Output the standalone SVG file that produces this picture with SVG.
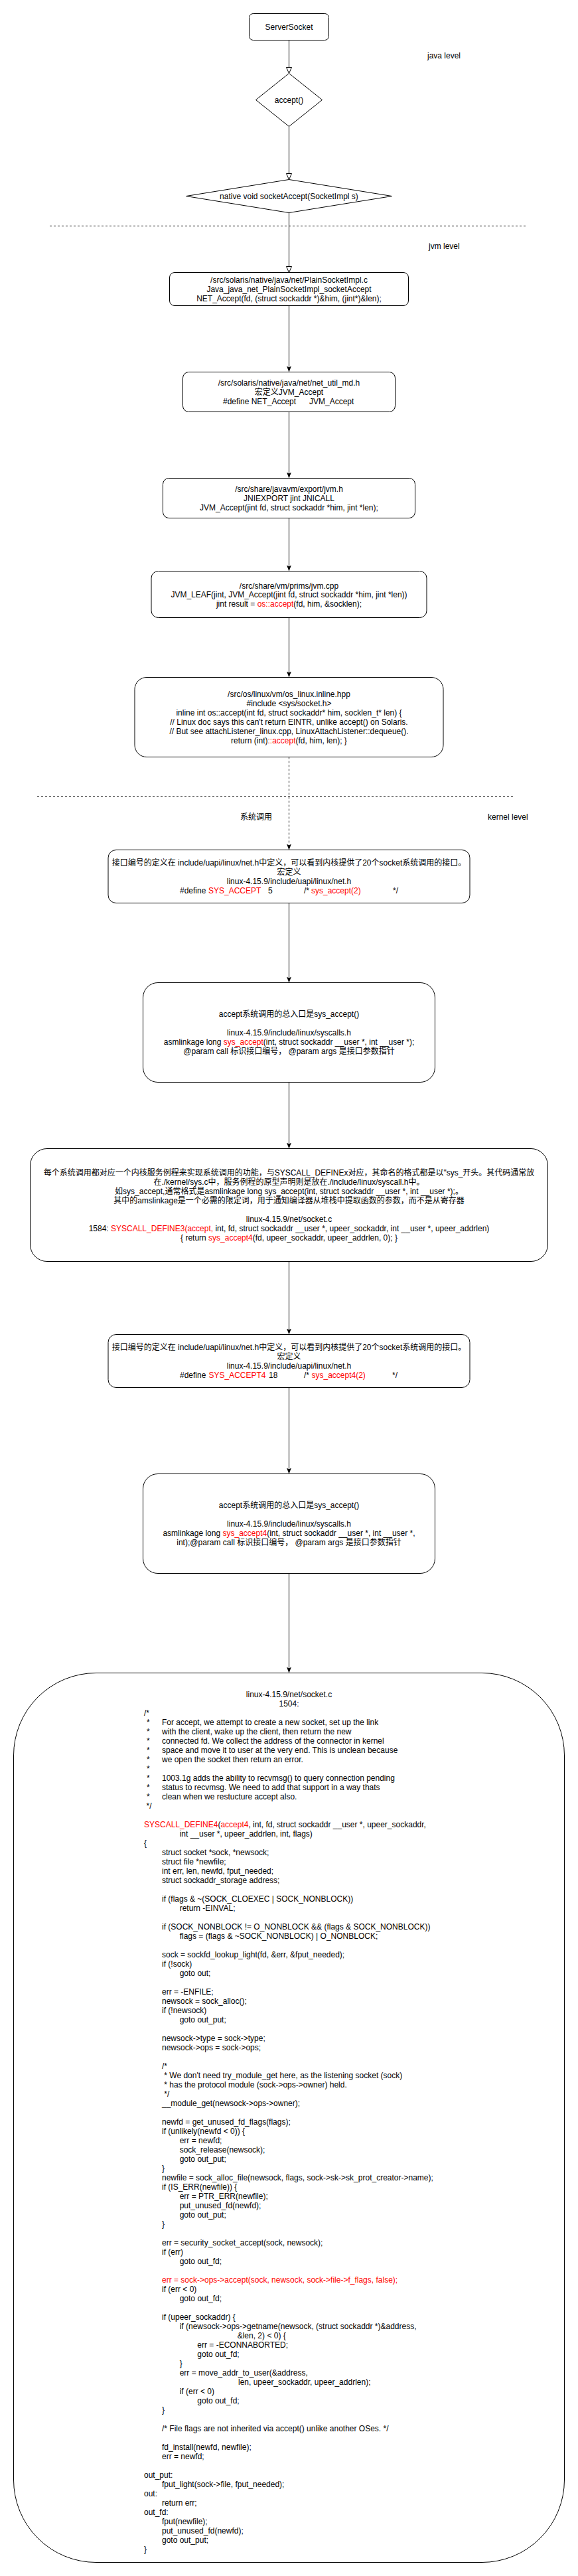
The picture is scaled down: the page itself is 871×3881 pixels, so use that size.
<svg xmlns="http://www.w3.org/2000/svg" width="871" height="3881" viewBox="0 0 871 3881">
<style>
.n{fill:#fff;stroke:#000;stroke-width:1}
.t{font-family:"Liberation Sans","Noto Sans CJK SC",sans-serif;font-size:12px;fill:#000}
.m{text-anchor:middle}
.r{fill:#ff0000}
.e{fill:none;stroke:#000;stroke-width:1}
.d{stroke-dasharray:3 3}
</style>
<defs>
<marker id="hollow" viewBox="0 0 10 9" refX="9.5" refY="4.5" markerWidth="10" markerHeight="9" markerUnits="userSpaceOnUse" orient="auto">
<path d="M0.5,0.5 L9.5,4.5 L0.5,8.5 Z" fill="#fff" stroke="#000" stroke-width="1"/>
</marker>
<marker id="classic" viewBox="0 0 9 7" refX="9" refY="3.5" markerWidth="9" markerHeight="7" markerUnits="userSpaceOnUse" orient="auto">
<path d="M0,0 L9,3.5 L0,7 L2.2,3.5 Z" fill="#000"/>
</marker>
</defs>
<rect width="871" height="3881" fill="#fff"/>

<g id="levels">
<line class="e d" x1="75" y1="340.5" x2="793" y2="340.5"/>
<line class="e d" x1="56" y1="1200.5" x2="773" y2="1200.5"/>
<text class="t" x="644" y="87.5">java level</text>
<text class="t" x="646" y="375">jvm level</text>
<text class="t" x="362" y="1235">系统调用</text>
<text class="t" x="735" y="1235">kernel level</text>
</g>

<g id="connectors">
<line class="e" x1="435.5" y1="60.5" x2="435.5" y2="110.5" marker-end="url(#hollow)"/>
<line class="e" x1="435.5" y1="190.5" x2="435.5" y2="270.5" marker-end="url(#hollow)"/>
<line class="e" x1="435.5" y1="320.5" x2="435.5" y2="410.5" marker-end="url(#hollow)"/>
<line class="e" x1="435.5" y1="460.5" x2="435.5" y2="560.5" marker-end="url(#classic)"/>
<line class="e" x1="435.5" y1="620.5" x2="435.5" y2="720.5" marker-end="url(#classic)"/>
<line class="e" x1="435.5" y1="780.5" x2="435.5" y2="860.5" marker-end="url(#classic)"/>
<line class="e" x1="435.5" y1="930.5" x2="435.5" y2="1020.5" marker-end="url(#classic)"/>
<line class="e d" x1="435.5" y1="1140.5" x2="435.5" y2="1280.5" marker-end="url(#classic)"/>
<line class="e" x1="435.5" y1="1360.5" x2="435.5" y2="1480.5" marker-end="url(#classic)"/>
<line class="e" x1="435.5" y1="1630.5" x2="435.5" y2="1730.5" marker-end="url(#classic)"/>
<line class="e" x1="435.5" y1="1900.5" x2="435.5" y2="2010.5" marker-end="url(#classic)"/>
<line class="e" x1="435.5" y1="2090.5" x2="435.5" y2="2220.5" marker-end="url(#classic)"/>
<line class="e" x1="435.5" y1="2370.5" x2="435.5" y2="2520.5" marker-end="url(#classic)"/>
</g>

<g id="serversocket">
<rect class="n" x="375.5" y="20.5" width="120" height="40" rx="6"/>
<text class="t m" x="435.5" y="44.5">ServerSocket</text>
</g>

<g id="accept">
<polygon class="n" points="435.5,110.5 485.5,150.5 435.5,190.5 385.5,150.5"/>
<text class="t m" x="435.5" y="154.5">accept()</text>
</g>

<g id="socketAccept">
<polygon class="n" points="435.5,270.5 590.5,295.5 435.5,320.5 280.5,295.5"/>
<text class="t m" x="435.5" y="299.5">native void socketAccept(SocketImpl s)</text>
</g>

<g id="plainSocketImpl">
<rect class="n" x="255.5" y="410.5" width="360" height="50" rx="7.5"/>
<text class="t m" x="435.5" y="425.7">/src/solaris/native/java/net/PlainSocketImpl.c</text>
<text class="t m" x="435.5" y="439.7">Java_java_net_PlainSocketImpl_socketAccept</text>
<text class="t m" x="435.5" y="453.7">NET_Accept(fd, (struct sockaddr *)&amp;him, (jint*)&amp;len);</text>
</g>

<g id="netUtilMd">
<rect class="n" x="275.5" y="560.5" width="320" height="60" rx="9"/>
<text class="t m" x="435.5" y="580.7">/src/solaris/native/java/net/net_util_md.h</text>
<text class="t m" x="435.5" y="594.7">宏定义JVM_Accept</text>
<text class="t" y="608.7"><tspan x="336">#define NET_Accept</tspan><tspan x="466">JVM_Accept</tspan></text>
</g>

<g id="jvmH">
<rect class="n" x="245.5" y="720.5" width="380" height="60" rx="9"/>
<text class="t m" x="435.5" y="741">/src/share/javavm/export/jvm.h</text>
<text class="t m" x="435.5" y="755">JNIEXPORT jint JNICALL</text>
<text class="t m" x="435.5" y="769">JVM_Accept(jint fd, struct sockaddr *him, jint *len);</text>
</g>

<g id="jvmCpp">
<rect class="n" x="228" y="860.5" width="415" height="70" rx="10.5"/>
<text class="t m" x="435.5" y="886.5">/src/share/vm/prims/jvm.cpp</text>
<text class="t m" x="435.5" y="900">JVM_LEAF(jint, JVM_Accept(jint fd, struct sockaddr *him, jint *len))</text>
<text class="t m" x="435.5" y="914">jint result = <tspan class="r">os::accept</tspan>(fd, him, &amp;socklen);</text>
</g>

<g id="osLinux">
<rect class="n" x="203" y="1020.5" width="465" height="120" rx="18"/>
<text class="t m" x="435.5" y="1050">/src/os/linux/vm/os_linux.inline.hpp</text>
<text class="t m" x="435.5" y="1064">#include &lt;sys/socket.h&gt;</text>
<text class="t m" x="435.5" y="1078">inline int os::accept(int fd, struct sockaddr* him, socklen_t* len) {</text>
<text class="t m" x="435.5" y="1092">// Linux doc says this can't return EINTR, unlike accept() on Solaris.</text>
<text class="t m" x="435.5" y="1106">// But see attachListener_linux.cpp, LinuxAttachListener::dequeue().</text>
<text class="t m" x="435.5" y="1120">return (int)<tspan class="r">::accept</tspan>(fd, him, len); }</text>
</g>

<g id="netH">
<rect class="n" x="163" y="1280.5" width="545" height="80" rx="12"/>
<text class="t m" x="435.5" y="1304">接口编号的定义在 include/uapi/linux/net.h中定义，可以看到内核提供了20个socket系统调用的接口。</text>
<text class="t m" x="435.5" y="1318">宏定义</text>
<text class="t m" x="435.5" y="1332">linux-4.15.9/include/uapi/linux/net.h</text>
<text class="t" y="1346"><tspan x="271">#define</tspan><tspan x="314" class="r">SYS_ACCEPT</tspan><tspan x="404">5</tspan><tspan x="458">/*</tspan><tspan x="469" class="r">sys_accept(2)</tspan><tspan x="592">*/</tspan></text>
</g>

<g id="syscallsH">
<rect class="n" x="215.5" y="1480.5" width="440" height="150" rx="22.5"/>
<text class="t m" x="435.5" y="1532">accept系统调用的总入口是sys_accept()</text>
<text class="t m" x="435.5" y="1560">linux-4.15.9/include/linux/syscalls.h</text>
<text class="t m" x="435.5" y="1574">asmlinkage long <tspan class="r">sys_accept</tspan>(int, struct sockaddr __user *, int __user *);</text>
<text class="t m" x="435.5" y="1588">@param call 标识接口编号，  @param args 是接口参数指针</text>
</g>

<g id="syscallDefine3">
<rect class="n" x="45.5" y="1730.5" width="780" height="170" rx="25.5"/>
<text class="t m" x="435.5" y="1771">每个系统调用都对应一个内核服务例程来实现系统调用的功能，与SYSCALL_DEFINEx对应，其命名的格式都是以"sys_开头。其代码通常放</text>
<text class="t m" x="435.5" y="1785">在./kernel/sys.c中，服务例程的原型声明则是放在./include/linux/syscall.h中。</text>
<text class="t m" x="435.5" y="1799">如sys_accept,通常格式是asmlinkage long sys_accept(int, struct sockaddr __user *, int __user *);。</text>
<text class="t m" x="435.5" y="1813">其中的amslinkage是一个必需的限定词，用于通知编译器从堆栈中提取函数的参数，而不是从寄存器</text>
<text class="t m" x="435.5" y="1841">linux-4.15.9/net/socket.c</text>
<text class="t m" x="435.5" y="1855">1584: <tspan class="r">SYSCALL_DEFINE3(accept,</tspan> int, fd, struct sockaddr __user *, upeer_sockaddr, int __user *, upeer_addrlen)</text>
<text class="t m" x="435.5" y="1869">{ return <tspan class="r">sys_accept4</tspan>(fd, upeer_sockaddr, upeer_addrlen, 0); }</text>
</g>

<g id="netH4">
<rect class="n" x="163" y="2010.5" width="545" height="80" rx="12"/>
<text class="t m" x="435.5" y="2034">接口编号的定义在 include/uapi/linux/net.h中定义，可以看到内核提供了20个socket系统调用的接口。</text>
<text class="t m" x="435.5" y="2048">宏定义</text>
<text class="t m" x="435.5" y="2062">linux-4.15.9/include/uapi/linux/net.h</text>
<text class="t" y="2076"><tspan x="271">#define</tspan><tspan x="314.5" class="r">SYS_ACCEPT4</tspan><tspan x="405">18</tspan><tspan x="458">/*</tspan><tspan x="469.5" class="r">sys_accept4(2)</tspan><tspan x="591">*/</tspan></text>
</g>

<g id="syscallsH4">
<rect class="n" x="215.5" y="2220.5" width="440" height="150" rx="22.5"/>
<text class="t m" x="435.5" y="2272">accept系统调用的总入口是sys_accept()</text>
<text class="t m" x="435.5" y="2300">linux-4.15.9/include/linux/syscalls.h</text>
<text class="t m" x="435.5" y="2314">asmlinkage long <tspan class="r">sys_accept4</tspan>(int, struct sockaddr __user *, int __user *,</text>
<text class="t m" x="435.5" y="2328">int);@param call 标识接口编号，  @param args 是接口参数指针</text>
</g>

<g id="socketC">
<rect class="n" x="20.5" y="2520.5" width="830" height="1340" rx="124.5"/>
<text class="t m" x="435.5" y="2557">linux-4.15.9/net/socket.c</text>
<text class="t m" x="435.5" y="2571">1504:</text>
<text class="t" x="217" y="2585">/*</text>
<text class="t" y="2599"><tspan x="221">*</tspan><tspan x="244">For accept, we attempt to create a new socket, set up the link</tspan></text>
<text class="t" y="2613"><tspan x="221">*</tspan><tspan x="244">with the client, wake up the client, then return the new</tspan></text>
<text class="t" y="2627"><tspan x="221">*</tspan><tspan x="244">connected fd. We collect the address of the connector in kernel</tspan></text>
<text class="t" y="2641"><tspan x="221">*</tspan><tspan x="244">space and move it to user at the very end. This is unclean because</tspan></text>
<text class="t" y="2655"><tspan x="221">*</tspan><tspan x="244">we open the socket then return an error.</tspan></text>
<text class="t" x="221" y="2669">*</text>
<text class="t" y="2683"><tspan x="221">*</tspan><tspan x="244">1003.1g adds the ability to recvmsg() to query connection pending</tspan></text>
<text class="t" y="2697"><tspan x="221">*</tspan><tspan x="244">status to recvmsg. We need to add that support in a way thats</tspan></text>
<text class="t" y="2711"><tspan x="221">*</tspan><tspan x="244">clean when we restucture accept also.</tspan></text>
<text class="t" x="220.5" y="2725">*/</text>
<text class="t" x="217" y="2753"><tspan class="r">SYSCALL_DEFINE4</tspan>(<tspan class="r">accept4</tspan>, int, fd, struct sockaddr __user *, upeer_sockaddr,</text>
<text class="t" x="270.7" y="2767">int __user *, upeer_addrlen, int, flags)</text>
<text class="t" x="217" y="2781">{</text>
<text class="t" x="244" y="2795">struct socket *sock, *newsock;</text>
<text class="t" x="244" y="2809">struct file *newfile;</text>
<text class="t" x="244" y="2823">int err, len, newfd, fput_needed;</text>
<text class="t" x="244" y="2837">struct sockaddr_storage address;</text>
<text class="t" x="244" y="2865">if (flags &amp; ~(SOCK_CLOEXEC | SOCK_NONBLOCK))</text>
<text class="t" x="270.7" y="2879">return -EINVAL;</text>
<text class="t" x="244" y="2907">if (SOCK_NONBLOCK != O_NONBLOCK &amp;&amp; (flags &amp; SOCK_NONBLOCK))</text>
<text class="t" x="270.7" y="2921">flags = (flags &amp; ~SOCK_NONBLOCK) | O_NONBLOCK;</text>
<text class="t" x="244" y="2949">sock = sockfd_lookup_light(fd, &amp;err, &amp;fput_needed);</text>
<text class="t" x="244" y="2963">if (!sock)</text>
<text class="t" x="270.7" y="2977">goto out;</text>
<text class="t" x="244" y="3005">err = -ENFILE;</text>
<text class="t" x="244" y="3019">newsock = sock_alloc();</text>
<text class="t" x="244" y="3033">if (!newsock)</text>
<text class="t" x="270.7" y="3047">goto out_put;</text>
<text class="t" x="244" y="3075">newsock-&gt;type = sock-&gt;type;</text>
<text class="t" x="244" y="3089">newsock-&gt;ops = sock-&gt;ops;</text>
<text class="t" x="244" y="3117">/*</text>
<text class="t" x="247.3" y="3131">* We don't need try_module_get here, as the listening socket (sock)</text>
<text class="t" x="247.3" y="3145">* has the protocol module (sock-&gt;ops-&gt;owner) held.</text>
<text class="t" x="247.3" y="3159">*/</text>
<text class="t" x="244" y="3173">__module_get(newsock-&gt;ops-&gt;owner);</text>
<text class="t" x="244" y="3201">newfd = get_unused_fd_flags(flags);</text>
<text class="t" x="244" y="3215">if (unlikely(newfd &lt; 0)) {</text>
<text class="t" x="270.7" y="3229">err = newfd;</text>
<text class="t" x="270.7" y="3243">sock_release(newsock);</text>
<text class="t" x="270.7" y="3257">goto out_put;</text>
<text class="t" x="244" y="3271">}</text>
<text class="t" x="244" y="3285">newfile = sock_alloc_file(newsock, flags, sock-&gt;sk-&gt;sk_prot_creator-&gt;name);</text>
<text class="t" x="244" y="3299">if (IS_ERR(newfile)) {</text>
<text class="t" x="270.7" y="3313">err = PTR_ERR(newfile);</text>
<text class="t" x="270.7" y="3327">put_unused_fd(newfd);</text>
<text class="t" x="270.7" y="3341">goto out_put;</text>
<text class="t" x="244" y="3355">}</text>
<text class="t" x="244" y="3383">err = security_socket_accept(sock, newsock);</text>
<text class="t" x="244" y="3397">if (err)</text>
<text class="t" x="270.7" y="3411">goto out_fd;</text>
<text class="t r" x="244" y="3439">err = sock-&gt;ops-&gt;accept(sock, newsock, sock-&gt;file-&gt;f_flags, false);</text>
<text class="t" x="244" y="3453">if (err &lt; 0)</text>
<text class="t" x="270.7" y="3467">goto out_fd;</text>
<text class="t" x="244" y="3495">if (upeer_sockaddr) {</text>
<text class="t" x="270.7" y="3509">if (newsock-&gt;ops-&gt;getname(newsock, (struct sockaddr *)&amp;address,</text>
<text class="t" x="357.7" y="3523">&amp;len, 2) &lt; 0) {</text>
<text class="t" x="297.3" y="3537">err = -ECONNABORTED;</text>
<text class="t" x="297.3" y="3551">goto out_fd;</text>
<text class="t" x="270.7" y="3565">}</text>
<text class="t" x="270.7" y="3579">err = move_addr_to_user(&amp;address,</text>
<text class="t" x="359" y="3593">len, upeer_sockaddr, upeer_addrlen);</text>
<text class="t" x="270.7" y="3607">if (err &lt; 0)</text>
<text class="t" x="297.3" y="3621">goto out_fd;</text>
<text class="t" x="244" y="3635">}</text>
<text class="t" x="244" y="3663">/* File flags are not inherited via accept() unlike another OSes. */</text>
<text class="t" x="244" y="3691">fd_install(newfd, newfile);</text>
<text class="t" x="244" y="3705">err = newfd;</text>
<text class="t" x="217" y="3733">out_put:</text>
<text class="t" x="244" y="3747">fput_light(sock-&gt;file, fput_needed);</text>
<text class="t" x="217" y="3761">out:</text>
<text class="t" x="244" y="3775">return err;</text>
<text class="t" x="217" y="3789">out_fd:</text>
<text class="t" x="244" y="3803">fput(newfile);</text>
<text class="t" x="244" y="3817">put_unused_fd(newfd);</text>
<text class="t" x="244" y="3831">goto out_put;</text>
<text class="t" x="217" y="3845">}</text>
</g>
</svg>
